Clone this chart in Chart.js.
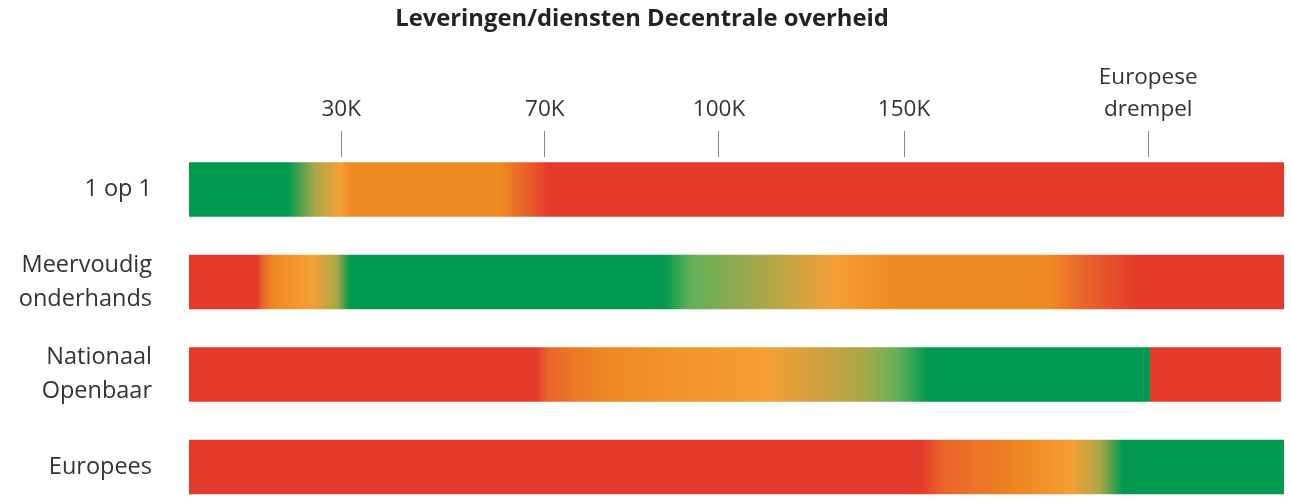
<!DOCTYPE html>
<html>
<head>
<meta charset="utf-8">
<script src="https://cdn.jsdelivr.net/npm/chart.js@4/dist/chart.umd.min.js"></script>
<style>
  html, body { margin: 0; padding: 0; background: #ffffff; }
  #wrap { position: relative; width: 1291px; height: 502px; }
</style>
</head>
<body>
<div id="wrap"><canvas id="c"></canvas></div>
<script>
// ---- data ----
const chartTitle = 'Leveringen/diensten Decentrale overheid';
const categories = ['1 op 1', ['Meervoudig', 'onderhands'], ['Nationaal', 'Openbaar'], 'Europees'];
const barStart = [0, 0, 0, 0];
const barEnd = [100, 100, 99.7, 100];
// schematic axis (0–100 = full bar), tick positions and labels
const tickValues = [13.9, 32.5, 48.4, 65.3, 87.6];
const tickLabels = ['30K', '70K', '100K', '150K', ['Europese', 'drempel']];
// colour zones along each bar: position on schematic axis and zone key
// G = groen, Y = overgang groen/oranje, L = licht oranje, O = oranje, M = oranje/rood, R = rood
const zonePos1 = [0, 9.0, 11.5, 13.8, 14.7, 28.4, 30.5, 33.0, 100];
const zoneKey1 = ['G', 'G', 'Y', 'L', 'O', 'O', 'M', 'R', 'R'];
const zonePos2 = [0, 6.2, 6.7, 7.9, 11.3, 13.5, 14.7, 43.3, 45.8, 52.4, 58.9, 64.5, 78.5, 81.7, 86.7, 100];
const zoneKey2 = ['R', 'R', 'M', 'O', 'L', 'Y', 'G', 'G', 'LG', 'Y', 'L', 'O', 'O', 'M', 'R', 'R'];
const zonePos3 = [0, 31.8, 32.7, 35.7, 38.7, 53.1, 57.0, 61.6, 64.7, 67.4, 87.8, 87.8, 99.7];
const zoneKey3 = ['R', 'R', 'M', 'M2', 'O', 'L', 'YL', 'Y', 'LG', 'G', 'G', 'R', 'R'];
const zonePos4 = [0, 66.8, 68.9, 73.4, 76.5, 80.7, 83.2, 85.3, 100];
const zoneKey4 = ['R', 'R', 'M', 'M2', 'O', 'L', 'Y', 'G', 'G'];
const zonePositions = [zonePos1, zonePos2, zonePos3, zonePos4];
const zoneKeys = [zoneKey1, zoneKey2, zoneKey3, zoneKey4];

// ---- styles ----
const palette = {
  G: '#00994f', LG: '#62b058', Y: '#aaa749', YL: '#d4a03e', L: '#f4a036',
  O: '#f08a22', M: '#e9652a', M2: '#ed7a25', R: '#e43a2b'
};
const FONT = "'Open Sans', 'Noto Sans', sans-serif";

function barGradient(ctx) {
  const chart = ctx.chart;
  const xs = chart.scales.x;
  if (!chart.chartArea || !xs || ctx.dataIndex === undefined) return palette.R;
  const i = ctx.dataIndex;
  const x0 = xs.getPixelForValue(xs.min);
  const x1 = xs.getPixelForValue(xs.max);
  const g = chart.ctx.createLinearGradient(x0, 0, x1, 0);
  const pos = zonePositions[i], keys = zoneKeys[i];
  for (let k = 0; k < pos.length; k++) {
    const px = xs.getPixelForValue(pos[k]);
    const f = Math.min(1, Math.max(0, (px - x0) / (x1 - x0)));
    g.addColorStop(f, palette[keys[k]]);
  }
  return g;
}

const data = {
  datasets: [{
    data: categories.map((c, i) => ({ x: [barStart[i], barEnd[i]], y: i })),
    backgroundColor: barGradient,
    borderWidth: 0,
    barThickness: 54
  }]
};

new Chart(document.getElementById('c'), {
  type: 'bar',
  data: data,
  options: {
    indexAxis: 'y',
    responsive: true,
    maintainAspectRatio: false,
    animation: false,
    layout: { padding: { left: 0, right: 7, top: 0, bottom: 0 } },
    plugins: {
      legend: { display: false },
      tooltip: { enabled: false },
      title: {
        display: true,
        text: chartTitle,
        color: '#222222',
        font: { family: FONT, size: 23.8, weight: 'bold', lineHeight: 1.2 },
        padding: { top: 5, bottom: 10 }
      }
    },
    scales: {
      x: {
        type: 'linear',
        position: 'top',
        min: 0,
        max: 100,
        offset: false,
        afterBuildTicks: (s) => { s.ticks = tickValues.map(v => ({ value: v })); },
        afterFit: (s) => { s.height = 157 - 5 - 10 - 23.8 * 1.2; s.paddingLeft = 0; s.paddingRight = 0; },
        ticks: {
          autoSkip: false,
          maxRotation: 0,
          padding: 6,
          color: '#333333',
          font: { family: FONT, size: 22.5, lineHeight: 1.4 },
          callback: (v, idx) => tickLabels[idx]
        },
        grid: { drawOnChartArea: false, drawTicks: true, tickLength: 26, color: '#8a8a8a', lineWidth: 1 },
        border: { display: false }
      },
      y: {
        type: 'linear',
        reverse: true,
        offset: false,
        min: -0.351,
        max: 3.378,
        afterBuildTicks: (s) => { s.ticks = categories.map((c, i) => ({ value: i })); },
        afterFit: (s) => { s.width = 189; s.paddingTop = 0; s.paddingBottom = 0; },
        ticks: {
          autoSkip: false,
          padding: 37,
          color: '#333333',
          font: { family: FONT, size: 23.5, lineHeight: 1.45 },
          callback: (v) => categories[v]
        },
        grid: { display: false, drawTicks: false },
        border: { display: false }
      }
    }
  }
});
</script>
</body>
</html>
